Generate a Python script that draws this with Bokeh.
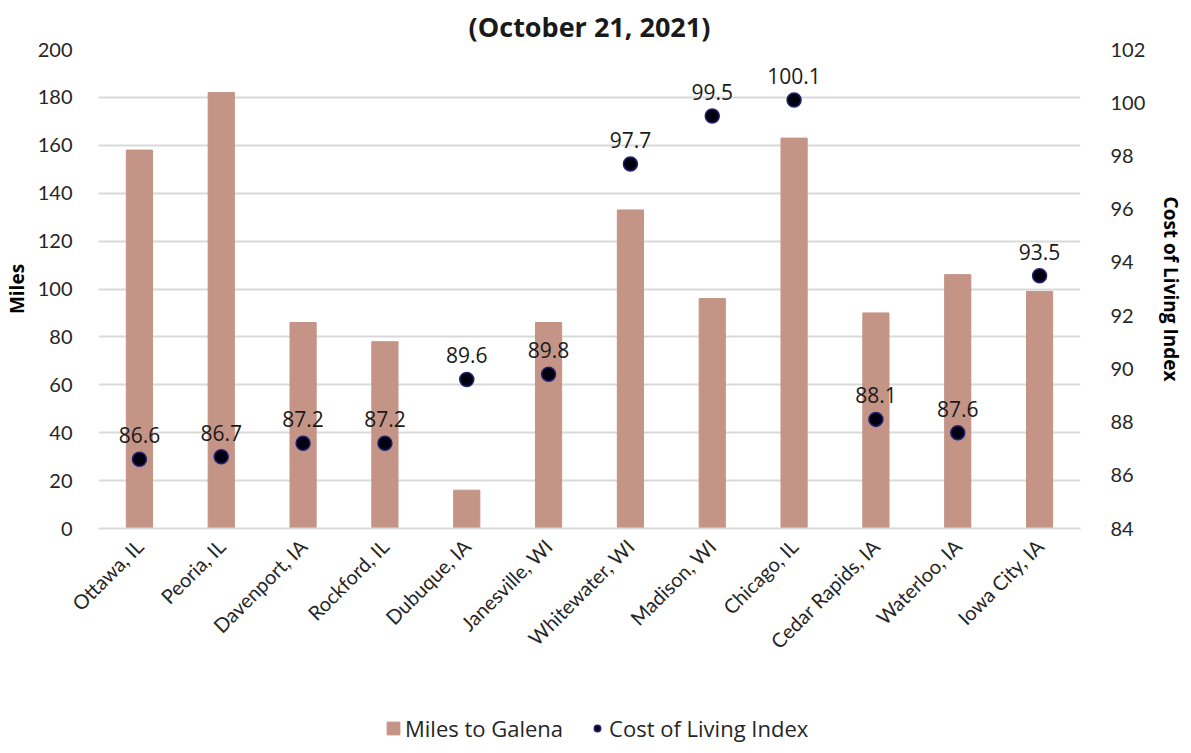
import math
from bokeh.plotting import figure
from bokeh.layouts import column
from bokeh.models import (ColumnDataSource, Range1d, LinearAxis, Legend, LegendItem,
                          FixedTicker, Title)
from bokeh.core.properties import value
from bokeh.embed import file_html
from bokeh.resources import INLINE

cities = ["Ottawa, IL", "Peoria, IL", "Davenport, IA", "Rockford, IL", "Dubuque, IA",
          "Janesville, WI", "Whitewater, WI", "Madison, WI", "Chicago, IL",
          "Cedar Rapids, IA", "Waterloo, IA", "Iowa City, IA"]
miles = [158, 182, 86, 78, 16, 86, 133, 96, 163, 90, 106, 99]
col_index = [86.6, 86.7, 87.2, 87.2, 89.6, 89.8, 97.7, 99.5, 100.1, 88.1, 87.6, 93.5]
left_ticks = [0, 20, 40, 60, 80, 100, 120, 140, 160, 180, 200]
right_ticks = [84, 86, 88, 90, 92, 94, 96, 98, 100, 102]

BAR_COLOR = "#c49486"
PT_FILL = "#000010"
PT_LINE = "#23236e"

src = ColumnDataSource(dict(city=cities, miles=miles, idx=col_index,
                            lbl=[f"{v:.1f}" for v in col_index]))

TICK_FONT = "Lato"
p = figure(x_range=cities, y_range=Range1d(0, 200), width=1175, height=702,
           frame_width=982,
           output_backend="svg", toolbar_location=None,
           min_border_left=95, min_border_right=88, min_border_top=36,
           min_border_bottom=174)
p.outline_line_color = None
p.background_fill_color = "white"
p.border_fill_color = "white"

p.title = Title(text="(October 21, 2021)", align="center", text_font_size="27px",
                text_font_style="bold", text_font="Open Sans", text_color="#1a1a1a",
                offset=0)

p.extra_y_ranges = {"col": Range1d(84, 102)}

bars = p.vbar(x="city", top="miles", width=0.32, source=src,
              fill_color=BAR_COLOR, line_color=BAR_COLOR)
pts = p.scatter(x="city", y="idx", source=src, y_range_name="col", size=14,
                fill_color=PT_FILL, line_color=PT_LINE, line_width=1.5)

p.text(x="city", y="idx", text="lbl", source=src, y_range_name="col",
       text_align="center", text_baseline="alphabetic", y_offset=-24,
       text_font=value("Open Sans"), text_font_size="21px", text_color="#1a1a1a")

# left axis
ya = p.yaxis[0]
ya.ticker = FixedTicker(ticks=left_ticks)
ya.axis_label = "Miles"
ya.axis_label_text_font = "Open Sans"
ya.axis_label_text_font_style = "bold"
ya.axis_label_text_font_size = "19px"
ya.axis_label_text_color = "#000000"
ya.major_label_text_font = TICK_FONT
ya.major_label_text_font_size = "20px"
ya.major_label_text_color = "#262626"
ya.axis_line_color = None
ya.major_tick_line_color = None
ya.minor_tick_line_color = None
ya.major_label_standoff = 20

ra = LinearAxis(y_range_name="col", ticker=FixedTicker(ticks=right_ticks),
                axis_label="Cost of Living Index")
ra.axis_label_text_font = "Open Sans"
ra.axis_label_text_font_style = "bold"
ra.axis_label_text_font_size = "19px"
ra.axis_label_text_color = "#000000"
ra.major_label_text_font = TICK_FONT
ra.major_label_text_font_size = "20px"
ra.major_label_text_color = "#262626"
ra.axis_line_color = None
ra.major_tick_line_color = None
ra.minor_tick_line_color = None
ra.major_label_standoff = 24
ra.axis_label_standoff = 10
p.add_layout(ra, "right")

xa = p.xaxis[0]
xa.major_label_orientation = math.pi / 4
xa.major_label_text_font = TICK_FONT
xa.major_label_text_font_size = "20px"
xa.major_label_text_color = "#262626"
xa.axis_line_color = "#d9d9d9"
xa.axis_line_width = 2
xa.major_tick_line_color = None
xa.minor_tick_line_color = None
xa.major_label_standoff = 8

p.xgrid.grid_line_color = None
p.ygrid.ticker = FixedTicker(ticks=left_ticks)
p.ygrid.grid_line_color = "#d9d9d9"
p.ygrid.grid_line_width = 2

# legend strip below the chart (swatches use hidden one-point renderers)
lg = figure(width=1175, height=43, output_backend="svg", toolbar_location=None,
            x_range=Range1d(0, 1), y_range=Range1d(0, 1),
            min_border_left=0, min_border_right=0, min_border_top=0, min_border_bottom=0)
lg.axis.visible = False
lg.grid.visible = False
lg.outline_line_color = None
hidden = ColumnDataSource(dict(x=[-5], y=[-5], top=[-5]))
lbar = lg.vbar(x="x", top="top", width=0.1, source=hidden,
               fill_color=BAR_COLOR, line_color=BAR_COLOR)
lpt = lg.scatter(x="x", y="y", source=hidden, size=12,
                 fill_color=PT_FILL, line_color=PT_LINE, line_width=1.5)
legend = Legend(items=[LegendItem(label="Miles to Galena", renderers=[lbar]),
                       LegendItem(label="Cost of Living Index", renderers=[lpt])],
                orientation="horizontal", location=(287, 2),
                label_text_font="Open Sans", label_text_font_size="22px",
                label_text_color="#262626", border_line_color=None,
                background_fill_alpha=0,
                glyph_width=16, glyph_height=16, spacing=26, label_standoff=4,
                margin=0, padding=4)
lg.add_layout(legend)

layout = column(p, lg, spacing=0)
open("out.html", "w").write(file_html(layout, INLINE))
